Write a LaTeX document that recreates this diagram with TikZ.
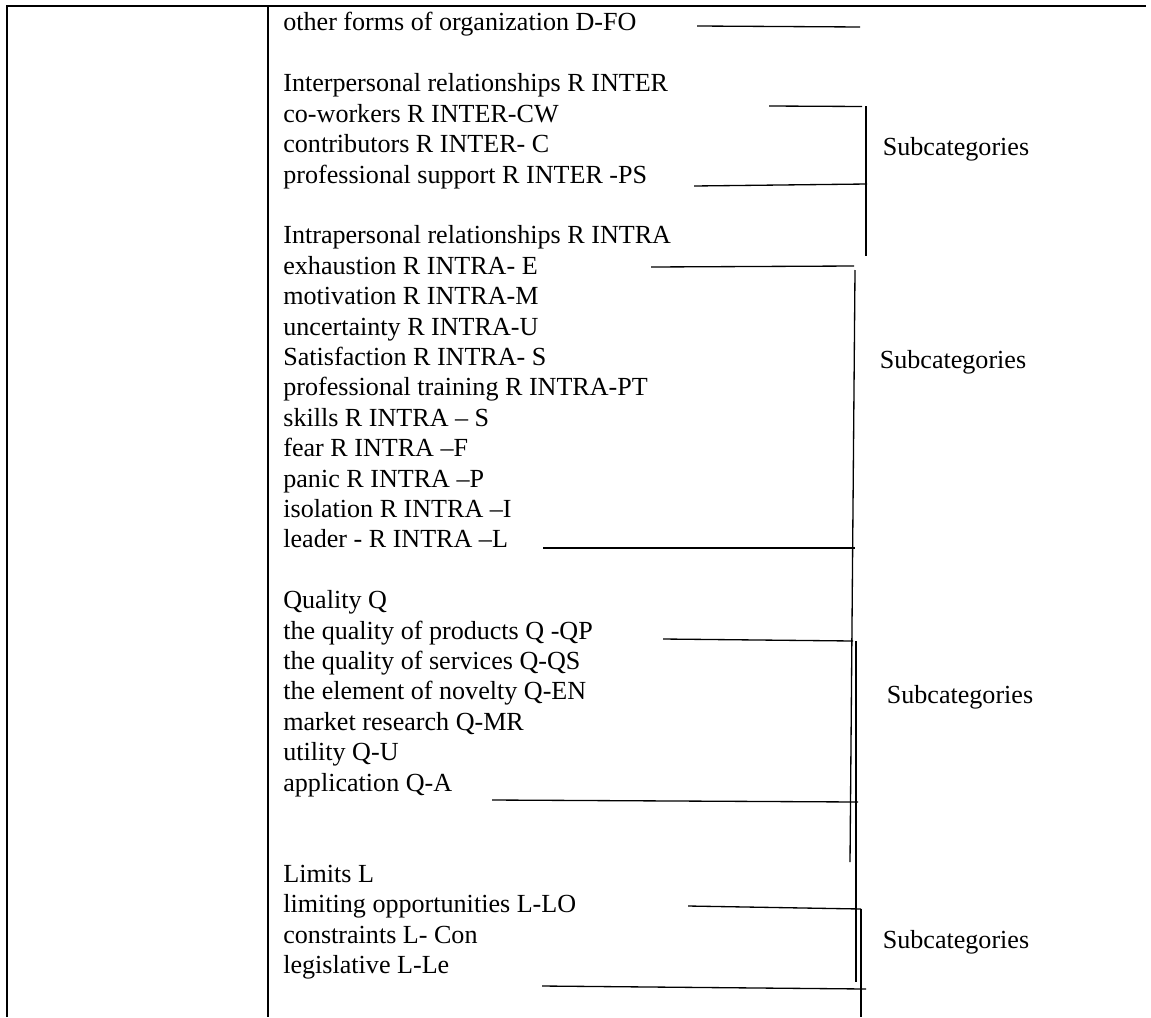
\documentclass[tikz,border=0pt]{standalone}
\usepackage{fontspec}
\setmainfont{Liberation Serif}
\tikzset{
  entry/.style={anchor=base west,inner sep=0pt,font=\fontsize{14.85}{17}\selectfont},
  sublabel/.style={anchor=base,inner sep=0pt,font=\fontsize{14.85}{17}\selectfont},
  frame/.style={line width=1.5pt},
  rule/.style={line width=0.75pt}
}
\begin{document}
\begin{tikzpicture}[x=0.02cm,y=-0.02cm]
            \useasboundingbox (0,0) rectangle (1151,1017);
            \draw[frame] (7,1017)--(7,6)--(1146,6);
            \draw[frame] (268,6)--(268,1017);

            \node[entry] (dfo) at (283,31) {other forms of organization D-FO};

            \node[entry] (inter) at (283,91.8) {Interpersonal relationships R INTER};
            \node[entry] (intercw) at (283,122.2) {co-workers R INTER-CW};
            \node[entry] (interc) at (283,152.6) {contributors R INTER- C};
            \node[entry] (interps) at (283,183) {professional support R INTER -PS};

            \node[entry] (intra) at (283,243.8) {Intrapersonal relationships R INTRA};
            \node[entry] (intrae) at (283,274.2) {exhaustion R INTRA- E};
            \node[entry] (intram) at (283,304.6) {motivation R INTRA-M};
            \node[entry] (intrau) at (283,335) {uncertainty R INTRA-U};
            \node[entry] (intras) at (283,365.4) {Satisfaction R INTRA- S};
            \node[entry] (intrapt) at (283,395.8) {professional training R INTRA-PT};
            \node[entry] (intrask) at (283,426.2) {skills R INTRA – S};
            \node[entry] (intraf) at (283,456.6) {fear R INTRA –F};
            \node[entry] (intrap) at (283,487) {panic R INTRA –P};
            \node[entry] (intrai) at (283,517.4) {isolation R INTRA –I};
            \node[entry] (intral) at (283,547.8) {leader - R INTRA –L};

            \node[entry] (qual) at (283,608.6) {Quality Q};
            \node[entry] (qualqp) at (283,639) {the quality of products Q -QP};
            \node[entry] (qualqs) at (283,669.4) {the quality of services Q-QS};
            \node[entry] (qualen) at (283,699.8) {the element of novelty Q-EN};
            \node[entry] (qualmr) at (283,730.2) {market research Q-MR};
            \node[entry] (qualu) at (283,760.6) {utility Q-U};
            \node[entry] (quala) at (283,791) {application Q-A};

            \node[entry] (lim) at (283,882.2) {Limits L};
            \node[entry] (limlo) at (283,912.6) {limiting opportunities L-LO};
            \node[entry] (limcon) at (283,943) {constraints L- Con};
            \node[entry] (limle) at (283,973.4) {legislative L-Le};

            \node[sublabel] (subinter) at (956,155) {Subcategories};
            \node[sublabel] (subintra) at (953,368) {Subcategories};
            \node[sublabel] (subqual) at (960,703) {Subcategories};
            \node[sublabel] (sublim) at (956,948) {Subcategories};

            \coordinate (fo1) at (697,26);
            \coordinate (fo2) at (860,27);
            \draw[rule] (fo1)--(fo2);

            \coordinate (b1a) at (769,106);
            \coordinate (b1b) at (862,106.5);
            \coordinate (b1top) at (866,106);
            \coordinate (b1bot) at (866,256);
            \coordinate (b1c) at (694,186);
            \coordinate (b1d) at (867,184);
            \draw[rule] (b1a)--(b1b);
            \draw[rule] (b1top)--(b1bot);
            \draw[rule] (b1c)--(b1d);

            \coordinate (b2a) at (651,267);
            \coordinate (b2b) at (854,266);
            \coordinate (b2top) at (855,270);
            \coordinate (b2bot) at (850,862);
            \coordinate (b2c) at (543,548);
            \coordinate (b2d) at (855,548);
            \draw[rule] (b2a)--(b2b);
            \draw[rule] (b2top)--(b2bot);
            \draw[rule] (b2c)--(b2d);

            \coordinate (b3a) at (663,639);
            \coordinate (b3b) at (853,641);
            \coordinate (b3top) at (856,641);
            \coordinate (b3bot) at (856,982);
            \coordinate (b3c) at (492,800);
            \coordinate (b3d) at (858,802);
            \draw[rule] (b3a)--(b3b);
            \draw[rule] (b3top)--(b3bot);
            \draw[rule] (b3c)--(b3d);

            \coordinate (b4a) at (688,906);
            \coordinate (b4b) at (861,909);
            \coordinate (b4top) at (861,909);
            \coordinate (b4bot) at (861,1017);
            \coordinate (b4c) at (542,986);
            \coordinate (b4d) at (866,989);
            \draw[rule] (b4a)--(b4b);
            \draw[rule] (b4top)--(b4bot);
            \draw[rule] (b4c)--(b4d);
        \end{tikzpicture}
\end{document}
